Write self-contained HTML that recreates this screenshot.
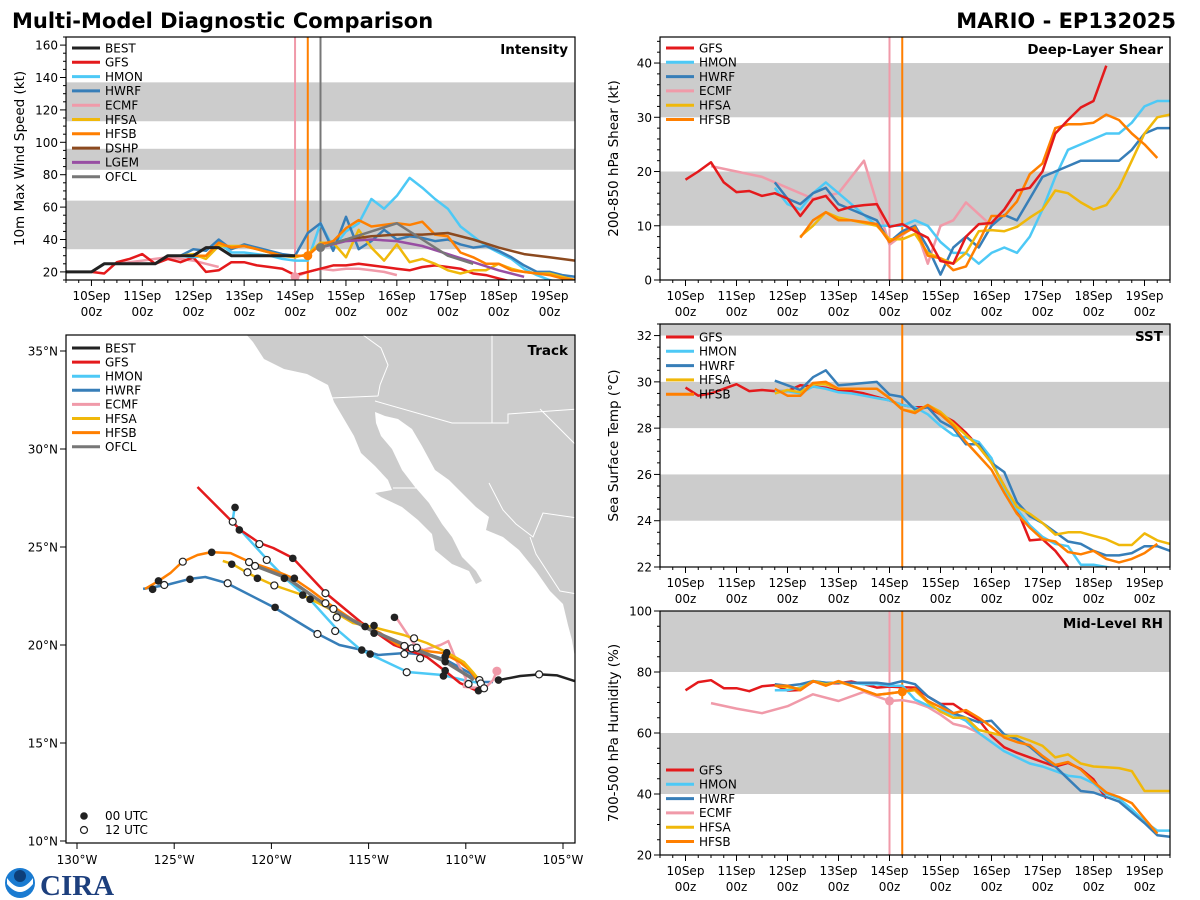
<!DOCTYPE html>
<html><head><meta charset="utf-8"><style>
html,body{margin:0;padding:0;background:#fff;}
svg{display:block;font-family:"DejaVu Sans","Liberation Sans",sans-serif;}
</style></head><body>
<svg id="fig" width="1200" height="900" viewBox="0 0 1200 900" xmlns="http://www.w3.org/2000/svg">
<text x="12" y="28" font-size="21" font-weight="bold">Multi-Model Diagnostic Comparison</text>
<text x="1176" y="28" font-size="21" font-weight="bold" text-anchor="end">MARIO - EP132025</text>
<g>
<circle cx="20" cy="883" r="15" fill="#1a7bd1"/>
<path d="M7 878 Q20 896 33 878 L33 884 Q20 900 7 884Z" fill="#fff"/>
<circle cx="20" cy="876" r="6" fill="#0d3f7a"/>
<text x="40" y="895" font-size="29" font-weight="bold" fill="#1d3f7d" font-family="Liberation Serif,serif">CIRA</text>
</g>
</svg>
<script>
// ===== time series data (days since 10Sep 00z, 6-h step unless noted) =====
const STEP = 0.25;
const intBestStart = -0.5;
const intBest = [20,20,20,25,25,25,25,25,30,30,30,35,35,30,30,30,30,30,30];
const intGfsStart = 0;
const intGfs = [20,19,26,28,31,25,28,26,29,20,21,26,26,24,23,22,18,20,22,24,24,25,24,23,22,21,23,24,23,22,19,18,16,14];
const intHmonStart = 1.75;
const intHmon = [30,29,30,38,32,32,31,30,28,27,27,50,35,45,50,65,59,67,78,72,65,59,48,42,36,32,28,22,18,15,13];
const intHwrfStart = 1.75;
const intHwrf = [30,34,33,40,34,37,35,33,31,30,44,50,33,54,34,39,46,40,42,41,39,40,37,35,36,33,29,24,20,20,18,17];
const intEcmfStart = 0.5;
const intEcmf = [25,26,27,28,29,28,27,25,23,null,null,null,null,null,17,20,22,21,22,22,21,20,18];
const intHfsaStart = 1.75;
const intHfsa = [30,31,28,36,36,36,34,32,30,29,31,38,38,29,46,35,27,37,26,28,25,21,19,21,21,25,22,20,19,19,17,15];
const intHfsbStart = 1.75;
const intHfsb = [30,30,30,38,35,36,34,32,30,30,30,37,39,47,52,48,49,50,49,51,43,42,32,29,25,25,21,20,19,18,16,15];
const intDshpStart = 4.5; // 12-h step
const intDshp = [35,40,42,43,43,44,40,35,31,29,27];
const intLgemStart = 4.5; // 12-h step
const intLgem = [35,39,40,39,36,31,26,21,17];
const intOfclStart = 4.5; // 12-h step
const intOfcl = [35,40,45,50,40,30,25];

const shGfsStart = 0;
const shGfs = [18.5,20,21.7,18,16.2,16.4,15.5,16,15,11.8,14.8,15.5,12.8,13.5,13.8,14,9.8,10.3,9,7.8,3.5,3,8,10.3,10.5,13,16.5,17,20,27,29.5,31.8,33,39.5];
const shHmonStart = 1.75;
const shHmon = [17,14,13,16,18,16,14,12,10,10,10,11,10,7,5,5,3,5,6,5,8,13,19,24,25,26,27,27,29,32,33,33];
const shHwrfStart = 1.75;
const shHwrf = [18,15,14,16,17,14,13,12,11,7,9,10,6,1,6,8,6,10,12,11,15,19,20,21,22,22,22,22,24,27,28,28];
const shEcmfT = [0.5,1,1.5,2,2.5,3,3.5,4,4.5,4.75,5,5.25,5.5,6];
const shEcmf = [21,20,19,17,15,16,22,6.5,10,3,10,11,14.3,10];
const shHfsaStart = 1.75;
const shHfsa = [15,null,8,10,12.5,11.5,11,10.5,10,7.5,7.5,8.5,5,4,3,5,9,9.2,9,9.8,11.5,13,16.5,16,14.3,13,13.8,17,22,27,30,30.5];
const shHfsbStart = 1.75;
const shHfsb = [14.5,null,7.8,11,12.5,11,11,10.7,10.3,7,8.5,9.7,4.5,4,1.8,2.5,7,11.8,11.8,14.5,19.5,21.5,28,28.7,28.7,29,30.5,29.5,27,25,22.5];

const sstGfsStart = 0;
const sstGfs = [29.75,29.4,29.5,29.7,29.9,29.6,29.65,29.6,29.6,29.85,29.8,29.75,29.6,29.6,29.5,29.35,29.2,29.0,28.9,28.9,28.6,28.3,27.8,27.2,26.5,25.5,24.5,23.15,23.2,22.7,22.0,21.5];
const sstHmonStart = 1.75;
const sstHmon = [29.6,29.6,29.5,29.8,29.7,29.55,29.5,29.4,29.3,29.2,29.0,28.9,28.6,28.1,27.7,27.6,27.4,26.7,25.3,24.5,23.8,23.3,23.0,22.9,22.1,22.1,22.0,21.9];
const sstHwrfStart = 1.75;
const sstHwrf = [30.05,29.85,29.65,30.2,30.5,29.85,29.9,29.95,30.0,29.45,29.35,28.8,28.9,28.3,28.0,27.3,27.3,26.5,26.1,24.8,24.2,23.9,23.5,23.1,23.0,22.7,22.5,22.5,22.6,22.9,22.9,22.7];
const sstHfsaStart = 1.75;
const sstHfsa = [29.5,29.65,29.55,29.9,29.9,29.7,29.7,29.7,29.7,29.3,28.8,28.7,29.0,28.7,28.2,27.7,27.2,26.5,25.5,24.6,24.3,23.9,23.4,23.5,23.5,23.35,23.2,22.95,22.95,23.45,23.15,23.0];
const sstHfsbStart = 1.75;
const sstHfsb = [29.7,29.4,29.4,29.95,30.0,29.7,29.7,29.7,29.7,29.3,28.8,28.65,29.0,28.6,28.1,27.4,26.8,26.2,25.2,24.3,23.7,23.2,23.1,22.65,22.55,22.7,22.35,22.2,22.35,22.6,23.0];

const rhGfsStart = 0;
const rhGfs = [74,76.7,77.3,74.7,74.7,73.7,75.3,75.7,73.9,74.1,76.9,76.3,76.3,76.9,76.0,74.9,75.2,75.0,74.9,72.0,69.5,69.5,66.7,64.3,59.0,55.3,53.5,52.0,50.5,49.0,50.2,48.2,44.8,38.5];
const rhHmonStart = 1.75;
const rhHmon = [74,74,75,77,76.5,76.5,76.5,76,76,75.5,75.5,71,69,67.5,66,64,60,57,54,52,50,49,47.5,46,45.5,43.5,40,38.5,35,31,28,28];
const rhHwrfStart = 1.75;
const rhHwrf = [76,75.5,76,77,76.5,76.5,76.5,76.5,76.5,76,77,76,72,69.5,66.5,65,63.5,64,59.5,58,55.5,52,49,45,41,40.5,39,37.5,34,30.5,26.5,26];
const rhEcmfT = [0.5,1,1.5,2,2.5,3,3.5,4,4.25,4.5,4.75,5,5.25,5.5,5.75,6];
const rhEcmf = [69.8,68,66.5,68.8,72.7,70.5,73.5,70.5,70.8,70,68.5,66,63,62,60,57];
const rhHfsaStart = 1.75;
const rhHfsa = [75.5,75,74.5,77,76,76.8,75.5,74,72.5,73,73.5,74,70,67,65,65,61,60,59,59,57.5,55.8,52,53,50,49,48.8,48.5,47.5,41,41,41];
const rhHfsbStart = 1.75;
const rhHfsb = [75.5,75.5,74,77,75.5,77,75.5,74,72.5,73,73.5,74.5,70.5,68.5,66.5,67.5,65,62,58.5,57,56,52.5,49.5,50.5,48,44,40.5,39,37,32,27];

const xTickLabels = ["10Sep","11Sep","12Sep","13Sep","14Sep","15Sep","16Sep","17Sep","18Sep","19Sep"];
const initEcmf = 4, initHfsb = 4.25, initOfcl = 4.5;

// ===== track data (lon, lat) =====
const trBestLon = [-108.3,-107.2,-106.2,-105.3,-104.4];
const trBestLat = [18.21,18.42,18.5,18.45,18.16];
const trGfsLon = [-123.8,-121.6,-120.6,-119.9,-118.9,-117.2,-115.4,-113.7,-112.0,-111.0,-110.3,-109.4];
const trGfsLat = [28.06,25.87,25.2,24.95,24.44,22.65,21.17,20.0,19.39,18.62,18.06,17.65];
const trHmonLon = [-121.9,-122.0,-121.6,-120.2,-119.2,-118.0,-116.6,-115.4,-113.0,-111.2,-110.1,-109.3];
const trHmonLat = [26.99,26.28,25.87,24.34,23.32,22.3,20.77,19.75,18.62,18.47,18.21,18.06];
const trHwrfLon = [-126.6,-125.4,-124.2,-123.4,-122.3,-119.9,-117.7,-116.5,-115.3,-114.5,-113.1,-111.8,-111.0,-109.8,-109.3,-108.6];
const trHwrfLat = [22.86,23.06,23.37,23.47,23.16,21.94,20.61,20.0,19.74,19.49,19.59,19.49,19.23,18.57,18.11,18.11];
const trEcmfLon = [-113.6,-112.7,-112.2,-111.3,-110.9,-110.5,-110.0,-110.1,-109.4,-108.9,-108.6,-108.4];
const trEcmfLat = [21.43,20.1,19.74,20.0,20.2,19.23,18.32,17.86,17.81,17.91,18.21,18.67];
const trHfsaLon = [-122.5,-122.0,-121.3,-120.7,-119.9,-118.4,-117.1,-115.8,-114.8,-113.2,-112.0,-111.0,-110.1,-109.6,-109.2];
const trHfsaLat = [24.29,24.13,23.72,23.42,23.06,22.55,21.89,21.12,20.92,20.51,20.1,19.64,19.13,18.57,18.06];
const trHfsbLon = [-126.5,-125.8,-125.2,-124.6,-123.8,-123.1,-122.1,-121.1,-119.9,-118.9,-118.0,-117.1,-115.8,-114.4,-113.5,-112.4,-111.2,-110.3,-109.8,-109.3,-109.0];
const trHfsbLat = [22.86,23.27,23.67,24.23,24.59,24.74,24.69,24.23,23.83,23.42,22.81,22.14,21.28,20.61,20.0,19.74,19.59,19.13,18.72,18.06,17.81];
const trOfclLon = [-120.8,-119.2,-117.0,-114.9,-112.9,-111.2,-109.8,-109.6];
const trOfclLat = [24.03,23.42,21.89,20.77,19.9,19.23,18.37,18.21];
const fixFilledLon = [-121.87,-121.65,-118.9,-123.07,-125.81,-126.11,-124.19,-122.04,-120.72,-119.33,-118.82,-118.39,-118.01,-119.81,-113.67,-115.18,-114.72,-114.72,-115.35,-114.92,-110.98,-111.06,-111.06,-111.06,-111.15,-108.32,-109.35];
const fixFilledLat = [27.02,25.87,24.42,24.73,23.27,22.84,23.35,24.12,23.4,23.4,23.4,22.55,22.33,21.92,21.41,20.94,20.99,20.6,19.74,19.54,19.61,19.4,19.15,18.69,18.42,18.21,17.67];
const fixOpenLon = [-121.99,-120.62,-120.24,-124.56,-125.51,-122.25,-121.15,-120.84,-121.23,-119.85,-117.22,-117.22,-116.81,-116.64,-116.72,-117.63,-112.66,-113.16,-112.78,-112.52,-113.16,-112.35,-113.04,-106.23,-109.3,-109.23,-109.86,-109.06];
const fixOpenLat = [26.29,25.15,24.34,24.25,23.06,23.15,24.23,24.03,23.71,23.04,22.64,22.13,21.84,21.41,20.71,20.56,20.34,19.95,19.83,19.86,19.54,19.32,18.61,18.5,18.21,18.04,18.01,17.79];
const lonTicks = [-130,-125,-120,-115,-110,-105];
const latTicks = [10,15,20,25,30,35];

const C = {BEST:"#222222",GFS:"#e41a1c",HMON:"#4dc9f6",HWRF:"#377eb8",ECMF:"#f09aa9",HFSA:"#f0b80a",HFSB:"#ff7f00",DSHP:"#8c4a1f",LGEM:"#984ea3",OFCL:"#777777"};

const svg = document.getElementById('fig');
const NS = "http://www.w3.org/2000/svg";
function mk(tag, attrs, parent){
  const e = document.createElementNS(NS, tag);
  for (const k in attrs) e.setAttribute(k, attrs[k]);
  (parent||svg).appendChild(e);
  return e;
}

function panel(opt){
  const g = mk('g', {});
  
  
  const sx = d => opt.x0 + (d - (-0.5)) / 10 * (opt.x1 - opt.x0);
  const sy = v => opt.y1 - (v - opt.vmin) / (opt.vmax - opt.vmin) * (opt.y1 - opt.y0);
  const cid = 'clip-' + opt.name;
  const cp = mk('clipPath', {id: cid}, g);
  mk('rect', {x: opt.x0, y: opt.y0, width: opt.x1 - opt.x0, height: opt.y1 - opt.y0}, cp);
  const inner = mk('g', {'clip-path': 'url(#' + cid + ')'}, g);
  opt.bands.forEach(b => {
    const r = mk('rect', {x: opt.x0, y: sy(b[1]), width: opt.x1 - opt.x0, height: sy(b[0]) - sy(b[1]), fill: '#cccccc'}, inner);
    
    
  });
  opt.vlines.forEach(v => {
    const l = mk('line', {x1: sx(v[0]), x2: sx(v[0]), y1: opt.y0, y2: opt.y1, stroke: v[1], 'stroke-width': 2}, inner);
    
    
  });
  opt.series.forEach(s => {
    let d = '', pen = false;
    s.v.forEach((v, i) => {
      const t = s.t ? s.t[i] : s.start + i * (s.step || STEP);
      if (v === null) { pen = false; return; }
      d += (pen ? 'L' : 'M') + sx(t).toFixed(1) + ' ' + sy(v).toFixed(1);
      pen = true;
    });
    const p = mk('path', {d: d, fill: 'none', stroke: C[s.k], 'stroke-width': s.k === 'BEST' ? 3 : 2.5, 'stroke-linejoin': 'round'}, inner);
    
    
  });
  (opt.dots || []).forEach(dt => {
    const c = mk('circle', {cx: sx(dt[0]), cy: sy(dt[1]), r: 4.5, fill: dt[2]}, inner);
    
    
  });
  mk('rect', {x: opt.x0, y: opt.y0, width: opt.x1 - opt.x0, height: opt.y1 - opt.y0, fill: 'none', stroke: '#000', 'stroke-width': 1.2}, g);
  for (let i = -2; i <= 38; i++) {
    const d = i * 0.25, x = sx(d);
    if (x < opt.x0 - 0.5 || x > opt.x1 + 0.5) continue;
    const major = i % 4 === 0;
    mk('line', {x1: x, x2: x, y1: opt.y1, y2: opt.y1 + (major ? 6 : 3), stroke: '#000', 'stroke-width': 1}, g);
  }
  xTickLabels.forEach((lab, i) => {
    const x = sx(i);
    const t1 = mk('text', {x: x, y: opt.y1 + 20, 'font-size': 12, 'text-anchor': 'middle'}, g);
    t1.textContent = lab;
    
    
    const t2 = mk('text', {x: x, y: opt.y1 + 36, 'font-size': 12, 'text-anchor': 'middle'}, g);
    t2.textContent = '00z';
    
    
  });
  for (let v = opt.vmin; v <= opt.vmax + 1e-6; v += opt.minor) {
    const y = sy(v);
    if (y < opt.y0 - 0.5) continue;
    const isMaj = Math.abs((v - opt.majorStart) / opt.major - Math.round((v - opt.majorStart) / opt.major)) < 1e-6 && v >= opt.majorStart - 1e-6;
    mk('line', {x1: opt.x0, x2: opt.x0 - (isMaj ? 6 : 3), y1: y, y2: y, stroke: '#000', 'stroke-width': 1}, g);
    if (isMaj) {
      const t = mk('text', {x: opt.x0 - 8, y: y + 4.5, 'font-size': 12, 'text-anchor': 'end'}, g);
      t.textContent = Math.round(v);
      
      
    }
  }
  const yl = mk('text', {x: 0, y: 0, 'font-size': 13.5, 'text-anchor': 'middle', transform: 'translate(' + (opt.x0 - 42) + ',' + ((opt.y0 + opt.y1) / 2) + ') rotate(-90)'}, g);
  yl.textContent = opt.ylabel;
  
  
  const tt = mk('text', {x: opt.x1 - 7, y: opt.y0 + 17, 'font-size': 13.5, 'font-weight': 'bold', 'text-anchor': 'end'}, g);
  tt.textContent = opt.title;
  
  
  legend(g, opt.x0 + 6, opt.legY, opt.legKeys, opt.legStep || 14.3);
}

function legend(g, x, y, keys, step){
  const lg = mk('g', {}, g);
  
  
  keys.forEach((k, i) => {
    const yy = y + i * step;
    const ln = mk('line', {x1: x, x2: x + 28, y1: yy, y2: yy, stroke: C[k], 'stroke-width': 3}, lg);
    
    
    const t = mk('text', {x: x + 33, y: yy + 4.3, 'font-size': 12}, lg);
    t.textContent = k;
    
    
  });
}

panel({name: 'intensity-panel', x0: 66, x1: 575, y0: 37, y1: 280, vmin: 15, vmax: 165, minor: 5, major: 20, majorStart: 20,
  bands: [[34,64],[83,96],[113,137]], ylabel: '10m Max Wind Speed (kt)', title: 'Intensity',
  vlines: [[initEcmf, C.ECMF],[initHfsb, C.HFSB],[initOfcl, C.OFCL]],
  dots: [[initEcmf,17,C.ECMF],[initHfsb,30,C.HFSB],[initOfcl,35,C.OFCL]],
  legY: 48, legKeys: ['BEST','GFS','HMON','HWRF','ECMF','HFSA','HFSB','DSHP','LGEM','OFCL'],
  series: [
    {k:'ECMF', start:intEcmfStart, v:intEcmf},
    {k:'GFS', start:intGfsStart, v:intGfs},
    {k:'HMON', start:intHmonStart, v:intHmon},
    {k:'HWRF', start:intHwrfStart, v:intHwrf},
    {k:'HFSA', start:intHfsaStart, v:intHfsa},
    {k:'HFSB', start:intHfsbStart, v:intHfsb},
    {k:'DSHP', start:intDshpStart, step:0.5, v:intDshp},
    {k:'LGEM', start:intLgemStart, step:0.5, v:intLgem},
    {k:'OFCL', start:intOfclStart, step:0.5, v:intOfcl},
    {k:'BEST', start:intBestStart, v:intBest}]});

panel({name: 'shear-panel', x0: 660, x1: 1170, y0: 37, y1: 280, vmin: 0, vmax: 44.8, minor: 2, major: 10, majorStart: 0,
  bands: [[10,20],[30,40]], ylabel: '200-850 hPa Shear (kt)', title: 'Deep-Layer Shear',
  vlines: [[initEcmf, C.ECMF],[initHfsb, C.HFSB]],
  legY: 48, legKeys: ['GFS','HMON','HWRF','ECMF','HFSA','HFSB'],
  series: [
    {k:'ECMF', t:shEcmfT, v:shEcmf},
    {k:'HMON', start:shHmonStart, v:shHmon},
    {k:'HWRF', start:shHwrfStart, v:shHwrf},
    {k:'HFSA', start:shHfsaStart, v:shHfsa},
    {k:'HFSB', start:shHfsbStart, v:shHfsb},
    {k:'GFS', start:shGfsStart, v:shGfs}]});

panel({name: 'sst-panel', x0: 660, x1: 1170, y0: 324, y1: 567, vmin: 22, vmax: 32.5, minor: 0.5, major: 2, majorStart: 22,
  bands: [[24,26],[28,30],[32,33]], ylabel: 'Sea Surface Temp (°C)', title: 'SST',
  vlines: [[initHfsb, C.HFSB]],
  legY: 337, legKeys: ['GFS','HMON','HWRF','HFSA','HFSB'],
  series: [
    {k:'GFS', start:sstGfsStart, v:sstGfs},
    {k:'HMON', start:sstHmonStart, v:sstHmon},
    {k:'HWRF', start:sstHwrfStart, v:sstHwrf},
    {k:'HFSA', start:sstHfsaStart, v:sstHfsa},
    {k:'HFSB', start:sstHfsbStart, v:sstHfsb}]});

panel({name: 'rh-panel', x0: 660, x1: 1170, y0: 611, y1: 855, vmin: 20, vmax: 100, minor: 5, major: 20, majorStart: 20,
  bands: [[40,60],[80,100]], ylabel: '700-500 hPa Humidity (%)', title: 'Mid-Level RH',
  vlines: [[initEcmf, C.ECMF],[initHfsb, C.HFSB]],
  dots: [[initEcmf,70.5,C.ECMF],[initHfsb,73.5,C.HFSB]],
  legY: 770, legKeys: ['GFS','HMON','HWRF','ECMF','HFSA','HFSB'],
  series: [
    {k:'ECMF', t:rhEcmfT, v:rhEcmf},
    {k:'GFS', start:rhGfsStart, v:rhGfs},
    {k:'HMON', start:rhHmonStart, v:rhHmon},
    {k:'HWRF', start:rhHwrfStart, v:rhHwrf},
    {k:'HFSA', start:rhHfsaStart, v:rhHfsa},
    {k:'HFSB', start:rhHfsbStart, v:rhHfsb}]});

// ===== track map =====
(function(){
  const X0 = 66, X1 = 575, Y0 = 335, Y1 = 843;
  const lx = lon => 77 + (lon + 130) * 19.44;
  const ly = lat => 351 + (35 - lat) * 19.6;
  const g = mk('g', {});
  
  
  const cp = mk('clipPath', {id: 'clip-track'}, g);
  mk('rect', {x: X0, y: Y0, width: X1 - X0, height: Y1 - Y0}, cp);
  const inner = mk('g', {'clip-path': 'url(#clip-track)'}, g);
  const land = mk('path', {fill: '#cccccc', stroke: 'none', d:
    'M245 333 L253 342 L264 359 L284 369 L307 374 L328 385 L334 402 L344 419 L354 436 L361 453 L375 466 L388 480 L392 490 L375 493 L381 497 L402 507 L418 520 L432 534 L435 550 L452 564 L469 571 L476 584 L482 581 L476 571 L462 557 L452 537 L442 524 L429 503 L415 487 L402 470 L392 449 L381 436 L376 423 L375 412 L385 416 L398 419 L412 429 L422 446 L435 470 L449 480 L462 493 L476 507 L489 517 L486 530 L503 537 L519 550 L536 571 L550 591 L563 604 L568 625 L572 640 L574 652 L576 660 L580 662 L580 333 Z'});
  
  
  inner.appendChild(land);
  const bd = mk('path', {fill: 'none', stroke: '#ffffff', 'stroke-width': 1, d:
    'M331 398 L378 396 M375 401 L452 423 L508 423 L508 414 L578 409 M492 335 L492 423 M363 335 L381 348 L388 365 L380 385 L378 396 M393 488 L417 488 M489 483 L503 510 L516 524 L533 537 L543 513 L578 518 M540 409 L577 446 M530 537 L536 554 L560 591 L577 594'}, inner);
  
  
  const tracks = [['HWRF',trHwrfLon,trHwrfLat],['HMON',trHmonLon,trHmonLat],['GFS',trGfsLon,trGfsLat],['ECMF',trEcmfLon,trEcmfLat],['HFSB',trHfsbLon,trHfsbLat],['HFSA',trHfsaLon,trHfsaLat],['OFCL',trOfclLon,trOfclLat],['BEST',trBestLon,trBestLat]];
  tracks.forEach(tr => {
    const d = tr[1].map((lo, i) => (i ? 'L' : 'M') + lx(lo).toFixed(1) + ' ' + ly(tr[2][i]).toFixed(1)).join('');
    const p = mk('path', {d: d, fill: 'none', stroke: C[tr[0]], 'stroke-width': tr[0] === 'OFCL' ? 3.5 : 2.5, 'stroke-linejoin': 'round'}, inner);
    
    
  });
  const ec = mk('circle', {cx: lx(trEcmfLon[trEcmfLon.length-1]), cy: ly(trEcmfLat[trEcmfLat.length-1]), r: 4.5, fill: C.ECMF}, inner);
  
  
  fixFilledLon.forEach((lo, i) => {
    const c = mk('circle', {cx: lx(lo), cy: ly(fixFilledLat[i]), r: 3.8, fill: '#222'}, inner);
    
    
  });
  fixOpenLon.forEach((lo, i) => {
    const c = mk('circle', {cx: lx(lo), cy: ly(fixOpenLat[i]), r: 3.5, fill: '#fff', stroke: '#222', 'stroke-width': 1.2}, inner);
    
    
  });
  mk('rect', {x: X0, y: Y0, width: X1 - X0, height: Y1 - Y0, fill: 'none', stroke: '#000', 'stroke-width': 1.2}, g);
  lonTicks.forEach(lo => {
    const x = lx(lo);
    mk('line', {x1: x, x2: x, y1: Y1, y2: Y1 + 6, stroke: '#000'}, g);
    const t = mk('text', {x: x, y: Y1 + 21, 'font-size': 12, 'text-anchor': 'middle'}, g);
    t.textContent = Math.abs(lo) + '°W';
    
    
  });
  latTicks.forEach(la => {
    const y = ly(la);
    mk('line', {x1: X0, x2: X0 - 6, y1: y, y2: y, stroke: '#000'}, g);
    const t = mk('text', {x: X0 - 8, y: y + 4.5, 'font-size': 12, 'text-anchor': 'end'}, g);
    t.textContent = la + '°N';
    
    
  });
  const tt = mk('text', {x: X1 - 7, y: Y0 + 20, 'font-size': 13.5, 'font-weight': 'bold', 'text-anchor': 'end'}, g);
  tt.textContent = 'Track';
  
  
  legend(g, X0 + 6, 348, ['BEST','GFS','HMON','HWRF','ECMF','HFSA','HFSB','OFCL'], 14.1);
  const k1 = mk('circle', {cx: 84, cy: 816, r: 3.8, fill: '#222'}, g);
  
  
  const t1 = mk('text', {x: 105, y: 820, 'font-size': 12}, g);
  t1.textContent = '00 UTC';
  
  
  const k2 = mk('circle', {cx: 84, cy: 830, r: 3.5, fill: '#fff', stroke: '#222', 'stroke-width': 1.2}, g);
  
  
  const t2 = mk('text', {x: 105, y: 834, 'font-size': 12}, g);
  t2.textContent = '12 UTC';
  
  
})();
</script>
</body></html>
